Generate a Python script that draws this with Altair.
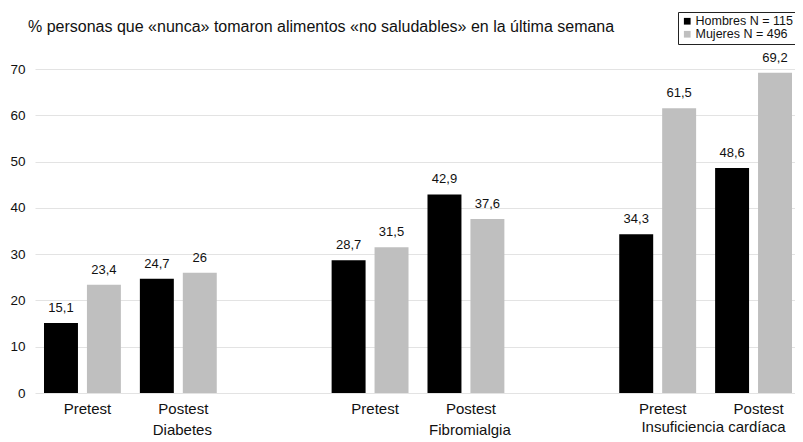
import altair as alt
import pandas as pd

# ---- data ----
grupos = ["Diabetes", "Fibromialgia", "Insuficiencia cardíaca"]
momentos = ["Pretest", "Postest"]
sexos = ["Hombres", "Mujeres"]
n_sexo = [115, 496]
hombres = [15.1, 24.7, 28.7, 42.9, 34.3, 48.6]
mujeres = [23.4, 26.0, 31.5, 37.6, 61.5, 69.2]
colores = ["#000000", "#bfbfbf"]
y_ticks = [0, 10, 20, 30, 40, 50, 60, 70]
titulo = "% personas que «nunca» tomaron alimentos «no saludables» en la última semana"

# ---- build tables ----
leyenda = [f"{s} N = {n}" for s, n in zip(sexos, n_sexo)]
slots = []
rows = []
k = 0
for gi, g in enumerate(grupos):
    for m in momentos:
        slot = f"{g}|{m}"
        slots.append(slot)
        for si, vals in enumerate([hombres, mujeres]):
            rows.append({"slot": slot, "grupo": g, "momento": m,
                         "sexo": leyenda[si], "valor": vals[k]})
        k += 1
    if gi < len(grupos) - 1:
        slots.append(f"sep{gi}")
df = pd.DataFrame(rows)
df_grp = pd.DataFrame({"slot": [f"{g}|Postest" for g in grupos], "grupo": grupos})
df_tit = pd.DataFrame({"t": [titulo]})

W, H = 760, 324
FONT = "Liberation Sans"
TXT = "#111111"

x_enc = alt.X("slot:N", scale=alt.Scale(domain=slots, paddingInner=0.198, paddingOuter=0.0626, align=0.75),
              axis=alt.Axis(title=None, ticks=False, domain=False, labelAngle=0,
                            labelExpr="indexof(datum.value, '|') > 0 ? split(datum.value, '|')[1] : ''",
                            labelFontSize=15, labelFont=FONT, labelColor=TXT,
                            labelPadding=8, labelOffset=5, grid=False))
xo_enc = alt.XOffset("sexo:N", sort=leyenda, scale=alt.Scale(domain=leyenda, paddingInner=0.209, paddingOuter=0))
y_enc = alt.Y("valor:Q", scale=alt.Scale(domain=[0, 70], nice=False),
              axis=alt.Axis(title=None, values=y_ticks, ticks=False, domain=False,
                            labelFontSize=13.5, labelFont=FONT, labelColor=TXT,
                            labelPadding=10, gridColor="#e3e3e3", gridWidth=1))

bars = alt.Chart(df).mark_bar().encode(
    x=x_enc, xOffset=xo_enc, y=y_enc,
    color=alt.Color("sexo:N", sort=leyenda,
                    scale=alt.Scale(domain=leyenda, range=colores),
                    legend=alt.Legend(title=None, orient="none", legendX=643, legendY=-57,
                                      symbolType="square", symbolSize=45, symbolStrokeWidth=0,
                                      labelFontSize=12.5, labelFont=FONT, labelColor=TXT,
                                      labelOffset=2, rowPadding=-1, padding=3,
                                      strokeColor="#222222", fillColor="white")),
)

labels = alt.Chart(df).transform_calculate(
    txt="replace(toString(datum.valor), '.', ',')"
).mark_text(baseline="alphabetic", dy=-11, fontSize=13, font=FONT, color=TXT).encode(
    x=x_enc, xOffset=xo_enc, y=y_enc, text="txt:N")

grp_a = alt.Chart(df_grp).transform_filter(
    alt.FieldOneOfPredicate(field="grupo", oneOf=grupos[:2])
).mark_text(baseline="middle", dx=4, fontSize=15, font=FONT, color=TXT).encode(
    x=alt.X("slot:N"), y=alt.value(H + 37), text="grupo:N")
grp_b = alt.Chart(df_grp).transform_filter(
    alt.FieldEqualPredicate(field="grupo", equal=grupos[2])
).mark_text(baseline="middle", dx=-40, fontSize=15, font=FONT, color=TXT).encode(
    x=alt.X("slot:N"), y=alt.value(H + 34), text="grupo:N")

title = alt.Chart(df_tit).mark_text(align="left", baseline="middle", fontSize=16,
                                    font=FONT, color=TXT).encode(
    x=alt.value(-7), y=alt.value(-42), text="t:N")

chart = alt.layer(bars, labels, grp_a, grp_b, title).properties(
    width=W, height=H,
    autosize=alt.AutoSizeParams(type="none"),
    padding={"left": 27, "top": 61, "right": 0, "bottom": 48},
).configure_view(stroke=None)

chart.save("out.html", embed_options={"renderer": "svg", "actions": False})
